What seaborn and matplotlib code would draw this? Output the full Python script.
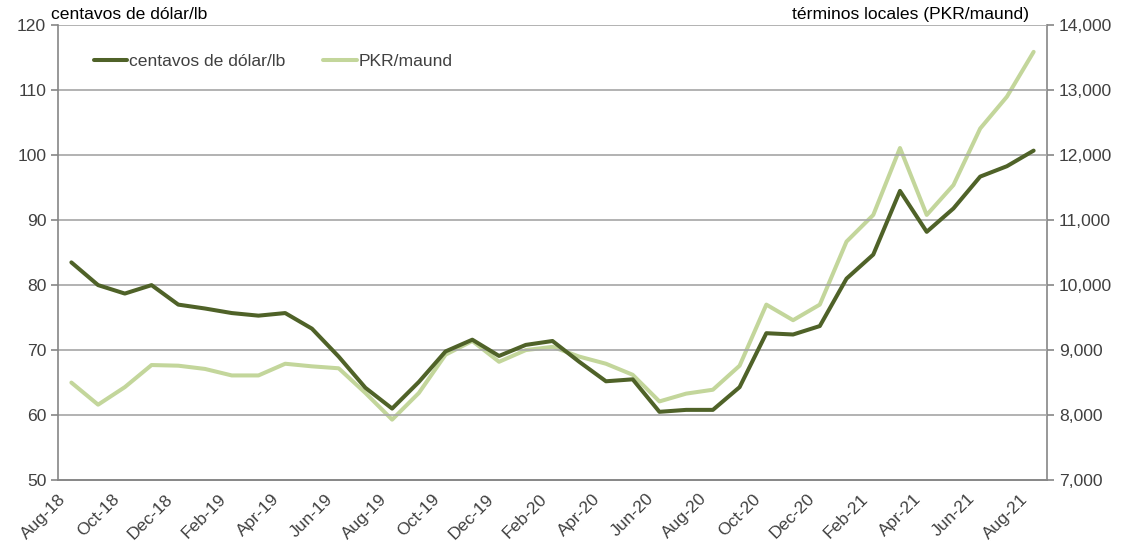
import matplotlib

matplotlib.use('Agg')

import numpy as np  # noqa: E402
import pandas as pd  # noqa: E402
import seaborn as sns  # noqa: E402
from matplotlib import pyplot as plt  # noqa: E402

MONTHS = [
    'Aug-18', 'Sep-18', 'Oct-18', 'Nov-18', 'Dec-18', 'Jan-19', 'Feb-19', 'Mar-19',
    'Apr-19', 'May-19', 'Jun-19', 'Jul-19', 'Aug-19', 'Sep-19', 'Oct-19', 'Nov-19',
    'Dec-19', 'Jan-20', 'Feb-20', 'Mar-20', 'Apr-20', 'May-20', 'Jun-20', 'Jul-20',
    'Aug-20', 'Sep-20', 'Oct-20', 'Nov-20', 'Dec-20', 'Jan-21', 'Feb-21', 'Mar-21',
    'Apr-21', 'May-21', 'Jun-21', 'Jul-21', 'Aug-21',
]

# US cents per lb (left axis)
CENTS_LB = [
    83.5, 80.0, 78.7, 80.0, 77.0, 76.4, 75.7, 75.3, 75.7, 73.3,
    69.0, 64.2, 61.0, 65.1, 69.8, 71.6, 69.1, 70.8, 71.4, 68.2,
    65.2, 65.5, 60.5, 60.8, 60.8, 64.3, 72.6, 72.4, 73.7, 81.0,
    84.7, 94.5, 88.2, 91.8, 96.7, 98.3, 100.7,
]

# PKR per maund (right axis)
PKR_MAUND = [
    8500, 8160, 8430, 8770, 8760, 8710, 8610, 8610, 8790, 8750,
    8720, 8340, 7930, 8340, 8930, 9140, 8820, 9000, 9050, 8900,
    8790, 8620, 8210, 8330, 8390, 8760, 9700, 9460, 9700, 10670,
    11080, 12110, 11080, 11540, 12410, 12900, 13590,
]

DARK = '#4f6228'
LIGHT = '#c3d69b'
GRID = '#a6a6a6'
TEXT = '#404040'
FS = 12.6

df = pd.DataFrame({'pos': np.arange(len(MONTHS)), 'month': MONTHS,
                   'cents': CENTS_LB, 'pkr': PKR_MAUND})

sns.set_style('white')
plt.rcParams['font.family'] = ['Liberation Sans', 'DejaVu Sans']
plt.rcParams['font.size'] = FS

fig, ax = plt.subplots(figsize=(11.24, 5.48), dpi=100)
fig.subplots_adjust(left=0.0516, right=0.9315, top=0.954, bottom=0.124)
ax2 = ax.twinx()

sns.lineplot(df, x='pos', y='pkr', color=LIGHT, linewidth=2.9, ax=ax2,
             label='PKR/maund', legend=False)
sns.lineplot(df, x='pos', y='cents', color=DARK, linewidth=2.9, ax=ax,
             label='centavos de dólar/lb', legend=False)

ax.set_zorder(ax2.get_zorder() + 1)
ax.patch.set_visible(False)

ax.set_xlim(-0.5, len(MONTHS) - 0.5)
ax.set_ylim(50, 120)
ax2.set_ylim(7000, 14000)
ax.set_yticks(np.arange(50, 121, 10))
ax2.set_yticks(np.arange(7000, 14001, 1000))
ax2.set_yticklabels([f'{v:,}' for v in range(7000, 14001, 1000)])

tick_pos = df['pos'][::2] - 0.5
ax.set_xticks(tick_pos)
ax.set_xticklabels(df['month'][::2], rotation=45, ha='right',
                   rotation_mode='anchor')
ax.set_xlabel('')
ax.set_ylabel('')
ax2.set_ylabel('')

ax.grid(axis='y', color=GRID, linewidth=1.2)
ax.set_axisbelow(True)
ax2.grid(False)

for a in (ax, ax2):
    a.spines['top'].set_visible(False)
    for side in ('left', 'right', 'bottom'):
        a.spines[side].set_color('#868686')
        a.spines[side].set_linewidth(1.2)
    a.tick_params(colors=TEXT, labelsize=FS, length=5, width=1.2,
                  color='#868686')
ax.spines['right'].set_visible(False)
ax2.spines['left'].set_visible(False)
ax.tick_params(axis='x', pad=3)

fig.text(0.045, 0.973, 'centavos de dólar/lb', fontsize=FS, color='black',
         ha='left', va='center')
fig.text(0.916, 0.973, 'términos locales (PKR/maund)', fontsize=FS,
         color='black', ha='right', va='center')

h1, l1 = ax.get_legend_handles_labels()
h2, l2 = ax2.get_legend_handles_labels()
ax.legend(h1 + h2, l1 + l2, loc='upper left', bbox_to_anchor=(0.02, 0.972),
          ncol=2, frameon=False, handlelength=1.9, handletextpad=0.1,
          columnspacing=2.2, fontsize=FS, labelcolor=TEXT)

fig.savefig('out.png', dpi=100)
plt.close(fig)
